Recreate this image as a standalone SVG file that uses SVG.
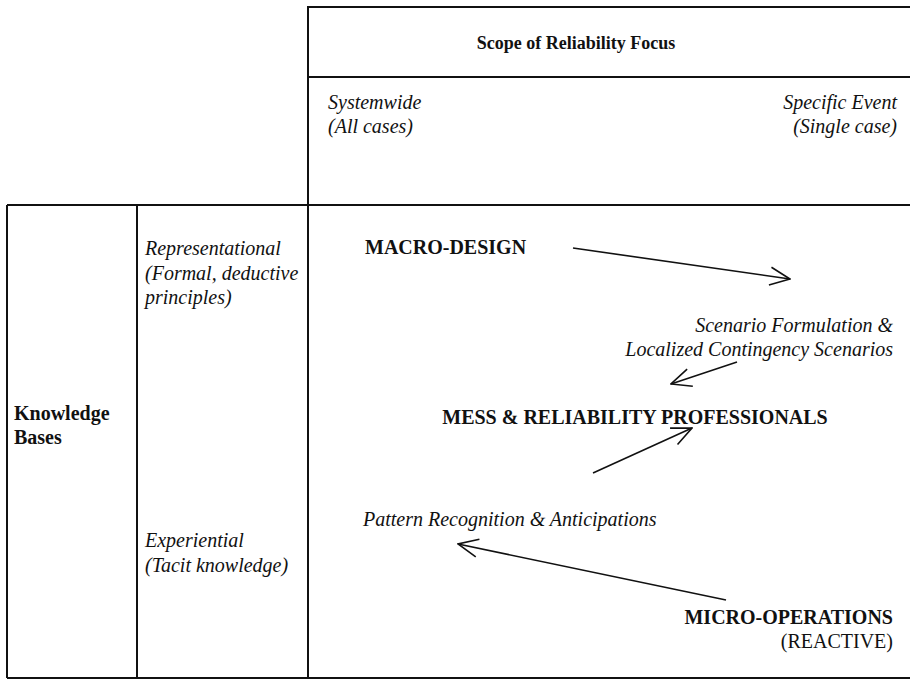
<svg xmlns="http://www.w3.org/2000/svg" width="910" height="680" viewBox="0 0 910 680">
<style>
text{font-family:"Liberation Serif","Times New Roman",serif;font-size:20px;fill:#111}
.b{font-weight:bold}
.i{font-style:italic}
.r{text-anchor:end}
.h{font-size:18px}
.grid{stroke:#111;stroke-width:2;fill:none}
.arr{stroke:#111;stroke-width:1.6;fill:none;marker-end:url(#ah)}
</style>
<defs>
<marker id="ah" viewBox="0 0 22 20" refX="21" refY="10" markerWidth="22" markerHeight="20" markerUnits="userSpaceOnUse" orient="auto">
<path d="M1,1 L21,10 L1,19" fill="none" stroke="#111" stroke-width="1.6"/>
</marker>
</defs>
<rect width="910" height="680" fill="#fff"/>
<g id="grid">
<line class="grid" x1="307" y1="7" x2="910" y2="7"/>
<line class="grid" x1="307" y1="77" x2="910" y2="77"/>
<line class="grid" x1="7" y1="205" x2="910" y2="205"/>
<line class="grid" x1="7" y1="678" x2="910" y2="678"/>
<line class="grid" x1="308" y1="7" x2="308" y2="678"/>
<line class="grid" x1="7" y1="205" x2="7" y2="678"/>
<line class="grid" x1="137" y1="205" x2="137" y2="678" stroke-width="3"/>
</g>
<g id="scope-header"><text class="b h" x="576" y="49" text-anchor="middle">Scope of Reliability Focus</text></g>
<g id="systemwide"><text class="i" x="328" y="109">Systemwide</text><text class="i" x="328" y="133">(All cases)</text></g>
<g id="specific-event"><text class="i r" x="897" y="109">Specific Event</text><text class="i r" x="897" y="133">(Single case)</text></g>
<g id="knowledge-bases"><text class="b" x="14" y="420">Knowledge</text><text class="b" x="14" y="444">Bases</text></g>
<g id="representational"><text class="i" x="145" y="255">Representational</text><text class="i" x="145" y="280">(Formal, deductive</text><text class="i" x="145" y="304">principles)</text></g>
<g id="experiential"><text class="i" x="145" y="547">Experiential</text><text class="i" x="145" y="572">(Tacit knowledge)</text></g>
<g id="macro-design"><text class="b" x="365" y="254">MACRO-DESIGN</text></g>
<g id="scenario"><text class="i r" x="893" y="332">Scenario Formulation &amp;</text><text class="i r" x="893" y="356">Localized Contingency Scenarios</text></g>
<g id="mess"><text class="b" x="635" y="424" text-anchor="middle">MESS &amp; RELIABILITY PROFESSIONALS</text></g>
<g id="pattern"><text class="i" x="363" y="526">Pattern Recognition &amp; Anticipations</text></g>
<g id="micro-operations"><text class="b r" x="893" y="624">MICRO-OPERATIONS</text><text class="r" x="893" y="648">(REACTIVE)</text></g>
<g id="connectors">
<line class="arr" x1="573" y1="248" x2="790" y2="279"/>
<line class="arr" x1="737" y1="362" x2="671" y2="384"/>
<line class="arr" x1="593" y1="473" x2="692" y2="428"/>
<line class="arr" x1="726" y1="600" x2="458" y2="544"/>
</g>
</svg>
